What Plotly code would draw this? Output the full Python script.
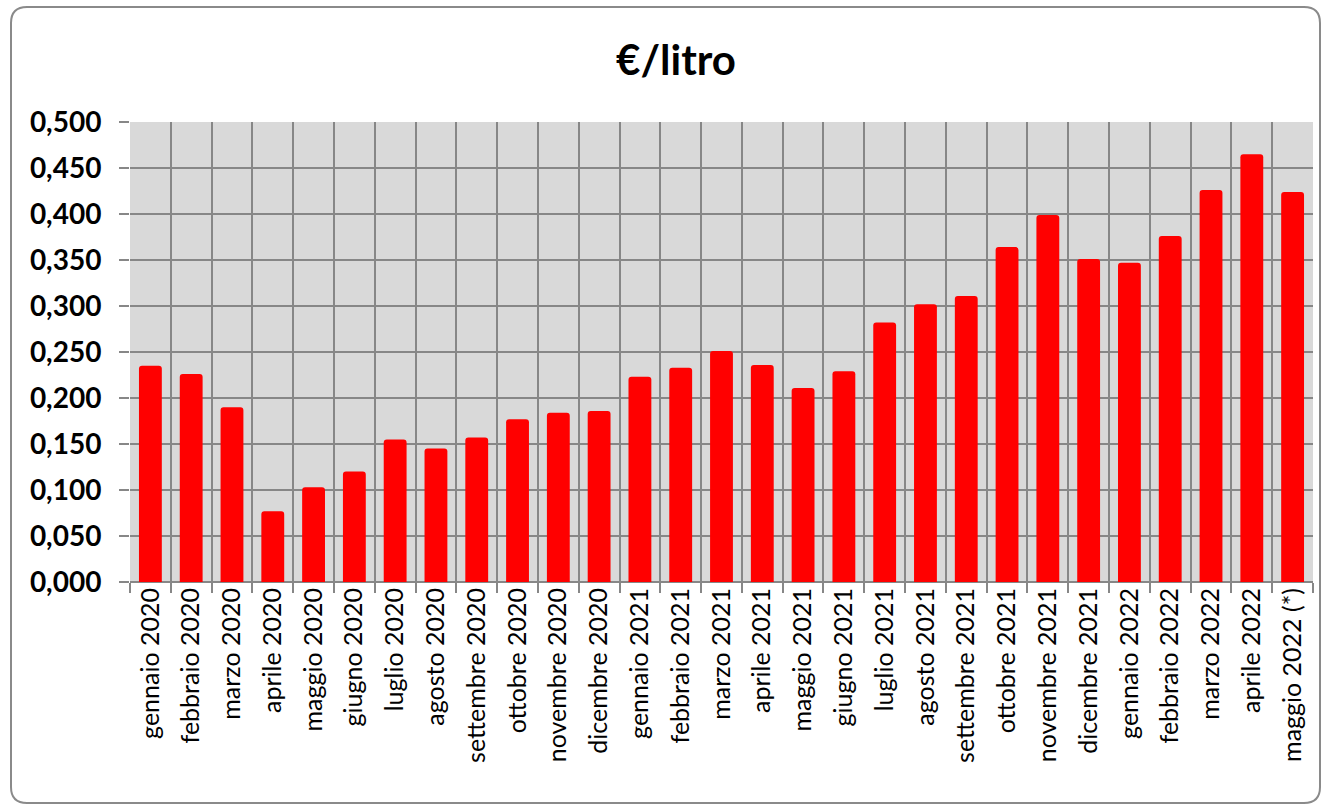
import plotly.graph_objects as go

months = ["gennaio 2020", "febbraio 2020", "marzo 2020", "aprile 2020", "maggio 2020",
          "giugno 2020", "luglio 2020", "agosto 2020", "settembre 2020", "ottobre 2020",
          "novembre 2020", "dicembre 2020", "gennaio 2021", "febbraio 2021", "marzo 2021",
          "aprile 2021", "maggio 2021", "giugno 2021", "luglio 2021", "agosto 2021",
          "settembre 2021", "ottobre 2021", "novembre 2021", "dicembre 2021",
          "gennaio 2022", "febbraio 2022", "marzo 2022", "aprile 2022", "maggio 2022 (*)"]
values = [0.235, 0.226, 0.190, 0.077, 0.103, 0.120, 0.155, 0.145, 0.157, 0.177,
          0.184, 0.186, 0.223, 0.233, 0.251, 0.236, 0.211, 0.229, 0.282, 0.302,
          0.311, 0.364, 0.399, 0.351, 0.347, 0.376, 0.426, 0.465, 0.424]
y_ticks = [0, 0.05, 0.1, 0.15, 0.2, 0.25, 0.3, 0.35, 0.4, 0.45, 0.5]
y_labels = ["0,000", "0,050", "0,100", "0,150", "0,200", "0,250", "0,300",
            "0,350", "0,400", "0,450", "0,500"]
title = "€/litro"

W, H = 1323, 805
L, R, T, B = 130, 10, 122, 223
pw, ph = W - L - R, H - T - B

def px(x):
    return (x - L) / pw

def py(y):
    return (H - B - y) / ph

# rounded frame
x0, y0, x1, y1, r = 11, 7, 1320, 803, 16
rx, ry = r / pw, r / ph
X0, X1, Y0, Y1 = px(x0), px(x1), py(y0), py(y1)
path = (f"M {X0+rx},{Y0} L {X1-rx},{Y0} Q {X1},{Y0} {X1},{Y0-ry} "
        f"L {X1},{Y1+ry} Q {X1},{Y1} {X1-rx},{Y1} L {X0+rx},{Y1} "
        f"Q {X0},{Y1} {X0},{Y1+ry} L {X0},{Y0-ry} Q {X0},{Y0} {X0+rx},{Y0} Z")

fig = go.Figure(go.Bar(
    x=months, y=values,
    marker=dict(color="#ff0000", line=dict(width=0), cornerradius=3),
    hoverinfo="x+y",
))

fig.update_layout(
    width=W, height=H,
    margin=dict(l=L, r=R, t=T, b=B),
    paper_bgcolor="white",
    plot_bgcolor="#d9d9d9",
    bargap=0.44,
    showlegend=False,
    title=dict(text=f"<b>{title}</b>", x=0.511, xanchor="center", y=1 - 60 / H,
               yanchor="middle", yref="container",
               font=dict(family="Lato", size=42, color="black")),
    font=dict(family="Lato", color="black"),
    shapes=[dict(type="path", path=path, xref="paper", yref="paper",
                 line=dict(color="#8a8a8a", width=2), fillcolor="rgba(0,0,0,0)",
                 layer="below")],
)

fig.update_xaxes(
    type="category", tickson="boundaries", showgrid=True, gridcolor="#878787",
    gridwidth=2, ticks="outside", ticklen=10, tickcolor="#878787", tickwidth=2,
    tickangle=-90, tickfont=dict(family="Lato", size=25, color="black"),
    showline=False, zeroline=False,
)
fig.update_yaxes(
    range=[0, 0.5], tickvals=y_ticks, ticktext=y_labels, showgrid=True,
    gridcolor="#878787", gridwidth=2, ticks="outside", ticklen=10,
    tickcolor="#878787", tickwidth=2, zeroline=True, zerolinecolor="#878787",
    zerolinewidth=2, showline=False, ticklabelstandoff=12,
    tickfont=dict(family="Lato", size=28, color="black", weight="bold"),
)

fig.write_html(
    "out.html",
    config={"displayModeBar": False},
    post_script="document.body.style.margin='0';document.body.style.overflow='hidden';",
)
